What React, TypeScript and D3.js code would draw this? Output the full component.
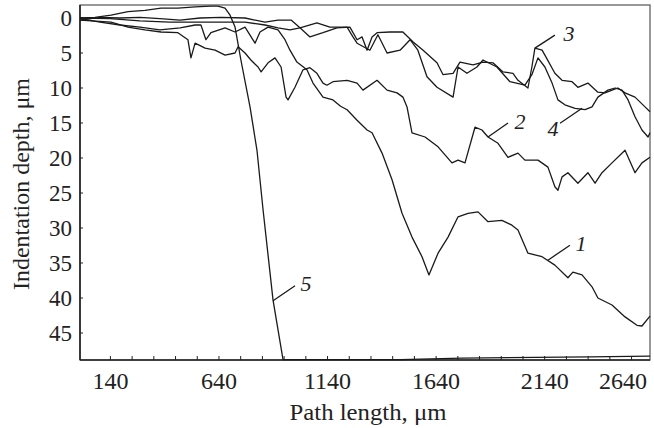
import React from "react";
import * as d3 from "d3";

// tick values
const pathLengthTicks = [140, 640, 1140, 1640, 2140, 2640];
const pathLengthMinorTicks = [
  140, 240, 340, 440, 540, 640, 740, 840, 940, 1040, 1140, 1240, 1340, 1440,
  1540, 1640, 1740, 1840, 1940, 2040, 2140, 2240, 2340, 2440, 2540,
];
const depthTicks = [0, 5, 10, 15, 20, 25, 30, 35, 40, 45];

// [path length, um ; indentation depth, um]
const curve1: [number, number][] = [
  [0, 0.1], [92, 0.6], [184, 1.0], [276, 1.3], [368, 1.7], [461, 1.4], [530, 1.0],
  [557, 1.0], [580, 3.1], [603, 2.1], [668, 1.4], [714, 2.0], [760, 1.3], [806, 3.6],
  [829, 2.0], [866, 1.3], [912, 1.7], [944, 3.1], [967, 4.6], [999, 6.3], [1045, 7.4],
  [1073, 9.3], [1119, 11.3], [1165, 11.7], [1200, 12.6], [1230, 13.1], [1276, 14.6],
  [1322, 16.0], [1345, 16.4], [1391, 19.3], [1437, 23.1], [1483, 27.9], [1529, 31.3],
  [1575, 34.1], [1607, 36.7], [1649, 33.6], [1695, 31.3], [1741, 28.4], [1787, 27.9],
  [1833, 27.7], [1879, 29.1], [1943, 28.9], [1989, 29.6], [2017, 30.3], [2063, 33.6],
  [2128, 34.1], [2187, 35.3], [2247, 37.1], [2270, 36.3], [2312, 36.7], [2358, 38.4],
  [2385, 40.0], [2450, 41.0], [2510, 42.7], [2565, 43.9], [2588, 44.0], [2625, 42.6],
];

const curve2: [number, number][] = [
  [0, 0.3], [143, 0.6], [221, 1.3], [299, 1.7], [373, 2.0], [451, 2.1], [497, 3.1],
  [511, 5.7], [530, 3.6], [576, 4.3], [622, 4.6], [668, 5.3], [714, 5.0], [728, 4.1],
  [760, 5.0], [787, 6.0], [820, 7.0], [834, 7.7], [866, 6.4], [898, 5.7], [926, 7.0],
  [949, 11.3], [958, 11.7], [990, 9.9], [1027, 7.4], [1059, 7.1], [1091, 7.9],
  [1119, 9.3], [1137, 9.6], [1165, 9.1], [1230, 8.9], [1276, 9.3], [1303, 10.3],
  [1368, 8.9], [1414, 10.3], [1460, 10.7], [1487, 11.3], [1506, 12.7], [1529, 16.4],
  [1589, 17.0], [1649, 18.4], [1713, 20.7], [1741, 20.3], [1773, 20.7], [1819, 15.6],
  [1851, 16.0], [1879, 17.0], [1925, 17.9], [1971, 19.9], [2017, 19.3], [2049, 20.3],
  [2109, 20.3], [2155, 21.3], [2187, 24.1], [2201, 24.6], [2220, 22.7], [2247, 22.1],
  [2293, 23.6], [2339, 22.1], [2372, 23.6], [2404, 22.1], [2450, 20.7], [2510, 18.9],
  [2556, 22.1], [2588, 20.7], [2625, 19.9],
];

const curve3: [number, number][] = [
  [0, 0.3], [92, -0.1], [184, 0], [276, -0.1], [368, 0.1], [461, 0.3], [553, 0],
  [649, -0.1], [760, 0], [852, 0.6], [912, 0.3], [972, 0.3], [1013, 1.4], [1059, 2.7],
  [1119, 2.1], [1183, 1.4], [1243, 1.3], [1276, 3.1], [1299, 2.7], [1322, 4.6],
  [1345, 2.7], [1368, 2.1], [1428, 2.0], [1487, 2.0], [1533, 3.4], [1580, 4.6],
  [1644, 6.4], [1672, 8.1], [1718, 7.9], [1750, 6.3], [1810, 6.7], [1856, 6.3],
  [1902, 6.4], [1948, 7.7], [1994, 7.9], [2017, 8.9], [2063, 10.0], [2081, 7.0],
  [2095, 4.3], [2128, 4.6], [2141, 5.3], [2187, 7.9], [2220, 8.9], [2266, 9.1],
  [2293, 9.9], [2339, 9.3], [2385, 10.6], [2418, 10.7], [2450, 10.3], [2477, 10.0],
  [2510, 10.7], [2556, 11.3], [2602, 12.7], [2625, 13.4],
];

const curve4: [number, number][] = [
  [0, 0], [138, 0.1], [276, 0.4], [414, 0.6], [553, 0.6], [649, 0.6], [760, 0.6],
  [852, 1.0], [912, 1.4], [967, 1.7], [1013, 1.4], [1091, 0.7], [1151, 1.3],
  [1230, 1.3], [1257, 2.7], [1276, 3.6], [1335, 4.6], [1372, 2.4], [1414, 5.0],
  [1474, 4.6], [1520, 3.1], [1556, 4.6], [1598, 8.4], [1644, 9.9], [1718, 11.3],
  [1741, 7.0], [1782, 7.9], [1828, 7.0], [1856, 6.0], [1920, 7.0], [1980, 9.1],
  [2049, 9.6], [2081, 8.1], [2109, 5.7], [2141, 7.0], [2174, 9.3], [2201, 11.7],
  [2233, 12.4], [2280, 12.9], [2326, 13.1], [2358, 12.7], [2385, 11.3], [2431, 10.3],
  [2464, 10.0], [2496, 10.3], [2524, 11.7], [2556, 14.1], [2588, 16.0], [2616, 17.0],
  [2625, 16.4],
];

const curve5: [number, number][] = [
  [0, 0], [69, -0.1], [143, -0.4], [221, -0.9], [299, -1.1], [373, -1.4], [451, -1.4],
  [530, -1.6], [603, -1.7], [635, -1.7], [668, -1.4], [691, -0.4], [714, 1.3],
  [741, 6.0], [783, 12.7], [815, 18.9], [843, 27.4], [889, 40.3], [935, 48.8],
  [1474, 48.8], [1759, 48.6], [2349, 48.4], [2625, 48.3],
];

const curves = [curve1, curve2, curve3, curve4, curve5];

// curve numbers: point on the curve, leader end offset, label offset (px)
const curveLabels = [
  { id: "1", x: 2155, y: 34.6, dx: 22, dy: -15, tx: 33, ty: -17 },
  { id: "2", x: 1879, y: 17.0, dx: 20, dy: -14, tx: 32, ty: -16 },
  { id: "3", x: 2095, y: 4.3, dx: 20, dy: -13, tx: 34, ty: -15 },
  { id: "4", x: 2312, y: 12.9, dx: -22, dy: 15, tx: -29, ty: 20 },
  { id: "5", x: 889, y: 40.4, dx: 22, dy: -15, tx: 33, ty: -18 },
];

const font = "'Liberation Serif', 'Times New Roman', serif";

export default function App() {
  const width = 654;
  const height = 428;
  const margin = { top: 5, right: 4, bottom: 68, left: 80 };
  const plotRight = width - margin.right;
  const plotBottom = height - margin.bottom;

  const xScale = d3.scaleLinear().domain([0, 2625]).range([margin.left, plotRight]);
  const yScale = d3.scaleLinear().domain([-1.857, 48.857]).range([margin.top, plotBottom]);

  const line = d3
    .line<[number, number]>()
    .x((d) => xScale(d[0]))
    .y((d) => yScale(d[1]));

  return (
    <svg
      width={width}
      height={height}
      style={{ position: "absolute", left: 0, top: 0, background: "#fff", fontFamily: font }}
    >
      {/* frame */}
      <rect
        x={margin.left}
        y={margin.top}
        width={plotRight - margin.left}
        height={plotBottom - margin.top}
        fill="none"
        stroke="#555"
        strokeWidth={1.2}
      />
      <line x1={margin.left} x2={margin.left} y1={margin.top} y2={plotBottom} stroke="#222" strokeWidth={1.6} />
      <line x1={margin.left} x2={plotRight} y1={plotBottom} y2={plotBottom} stroke="#222" strokeWidth={1.6} />

      {/* x ticks */}
      {pathLengthMinorTicks.map((t) => (
        <line key={t} x1={xScale(t)} x2={xScale(t)} y1={plotBottom} y2={plotBottom - 4} stroke="#222" strokeWidth={1} />
      ))}
      {pathLengthTicks.map((t) => {
        const past = xScale(t) + 20 > plotRight;
        return (
          <text
            key={t}
            x={past ? plotRight - 3 : xScale(t)}
            y={389}
            textAnchor={past ? "end" : "middle"}
            fontSize={24}
            fill="#222"
          >
            {t}
          </text>
        );
      })}

      {/* y ticks */}
      {depthTicks.map((t) => (
        <g key={t}>
          <line x1={margin.left} x2={margin.left + 3} y1={yScale(t)} y2={yScale(t)} stroke="#222" strokeWidth={1} />
          <text x={72} y={yScale(t)} dy="0.35em" textAnchor="end" fontSize={23} fill="#222">
            {t}
          </text>
        </g>
      ))}

      {/* curves */}
      {curves.map((c, i) => (
        <path key={i} d={line(c) ?? ""} fill="none" stroke="#1a1a1a" strokeWidth={1.3} strokeLinejoin="round" />
      ))}

      {/* curve numbers */}
      {curveLabels.map((l) => {
        const px = xScale(l.x);
        const py = yScale(l.y);
        return (
          <g key={l.id}>
            <line x1={px} y1={py} x2={px + l.dx} y2={py + l.dy} stroke="#1a1a1a" strokeWidth={1.3} />
            <text
              x={px + l.tx}
              y={py + l.ty}
              dy="0.35em"
              textAnchor="middle"
              fontSize={22}
              fontStyle="italic"
              fill="#222"
            >
              {l.id}
            </text>
          </g>
        );
      })}

      {/* axis titles */}
      <text x={368} y={420} textAnchor="middle" fontSize={23} textLength={157} lengthAdjust="spacingAndGlyphs" fill="#222">
        Path length, μm
      </text>
      <text
        transform={`translate(29, 184) rotate(-90)`}
        textAnchor="middle"
        fontSize={23}
        textLength={212}
        lengthAdjust="spacingAndGlyphs"
        fill="#222"
      >
        Indentation depth, μm
      </text>
    </svg>
  );
}
